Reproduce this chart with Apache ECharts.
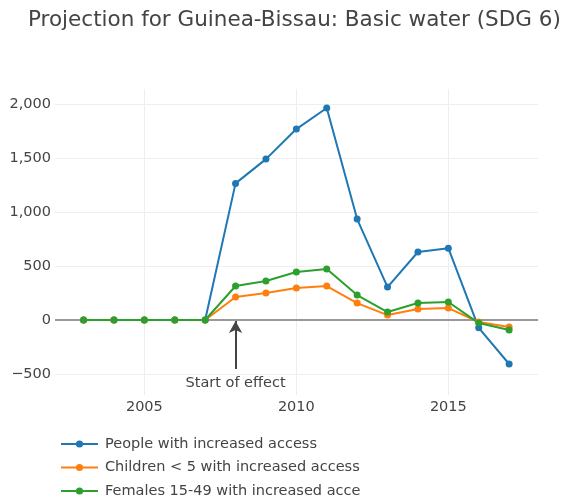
<!DOCTYPE html>
<html>
<head>
<meta charset="utf-8">
<script src="https://cdn.jsdelivr.net/npm/echarts@6/dist/echarts.min.js"></script>
<style>html,body{margin:0;padding:0;background:#fff}#c{width:566px;height:502px}</style>
</head>
<body>
<div id="c"></div>
<script>
const years = [2003, 2004, 2005, 2006, 2007, 2008, 2009, 2010, 2011, 2012, 2013, 2014, 2015, 2016, 2017];
const people = [0, 0, 0, 0, 0, 1265, 1490, 1768, 1963, 935, 305, 630, 665, -72, -407];
const children = [0, 0, 0, 0, 0, 213, 250, 296, 315, 157, 46, 102, 111, -18, -65];
const females = [0, 0, 0, 0, 0, 315, 361, 444, 472, 231, 74, 157, 167, -28, -93];
const seriesNames = ['People with increased access', 'Children < 5 with increased access', 'Females 15-49 with increased access'];
const xTicks = [2005, 2010, 2015];
const yTicks = [-500, 0, 500, 1000, 1500, 2000];
const annotationYear = 2008;
const titleText = 'Projection for Guinea-Bissau: Basic water (SDG 6)';

const FONT = 'DejaVu Sans';
const colors = ['#1f77b4', '#ff7f0e', '#2ca02c'];
const chart = echarts.init(document.getElementById('c'), null, {renderer: 'canvas'});

function pair(arr) { return years.map((y, i) => [y, arr[i]]); }
function fmtY(v) {
  const s = Math.abs(v).toLocaleString('en-US');
  return v < 0 ? '\u2212' + s : s;
}
function mkSeries(name, arr, color) {
  return {
    name, type: 'line', data: pair(arr), z: 5,
    symbol: 'circle', symbolSize: 7, showSymbol: true,
    lineStyle: {color, width: 2}, itemStyle: {color},
    animation: false
  };
}

const gridLines = [];
xTicks.forEach(v => gridLines.push({xAxis: v}));
yTicks.filter(v => v !== 0).forEach(v => gridLines.push({yAxis: v}));

chart.setOption({
  animation: false,
  title: {
    text: titleText, left: 28, top: 9, padding: 0,
    textStyle: {fontFamily: FONT, fontSize: 21.5, fontWeight: 'normal', color: '#444'}
  },
  grid: {left: 55, right: 28, top: 89, bottom: 107},
  xAxis: {
    type: 'value', min: 2002.06, max: 2017.95, splitNumber: 3,
    axisLine: {show: false}, axisTick: {show: false}, splitLine: {show: false},
    axisLabel: {
      fontFamily: FONT, fontSize: 14.5, color: '#444', margin: 5,
      showMinLabel: true, showMaxLabel: true,
      formatter: v => xTicks.includes(Math.round(v * 1000) / 1000) ? String(v) : ''
    }
  },
  yAxis: {
    type: 'value', min: -694, max: 2139, splitNumber: 5,
    axisLine: {show: false}, axisTick: {show: false}, splitLine: {show: false},
    axisLabel: {
      fontFamily: FONT, fontSize: 14.5, color: '#444', margin: 4,
      formatter: v => yTicks.includes(v) ? fmtY(v) : ''
    }
  },
  legend: {
    orient: 'vertical', left: 60, top: 435.5, padding: 0,
    data: seriesNames,
    itemWidth: 37, itemHeight: 9, itemGap: 6.5,
    textStyle: {
      fontFamily: FONT, fontSize: 14.5, color: '#444', lineHeight: 17,
      width: 263, overflow: 'truncate', ellipsis: '', padding: [0, 0, 0, 2]
    }
  },
  series: [
    {
      name: 'grid', type: 'line', data: [], z: 1, silent: true,
      markLine: {
        silent: true, symbol: 'none', animation: false,
        label: {show: false},
        lineStyle: {color: '#eeeeee', width: 1, type: 'solid'},
        data: gridLines
      }
    },
    {
      name: 'zero', type: 'line', data: [], z: 2, silent: true,
      markLine: {
        silent: true, symbol: 'none', animation: false,
        label: {show: false},
        lineStyle: {color: '#999999', width: 2, type: 'solid'},
        data: [{yAxis: 0}]
      }
    },
    mkSeries(seriesNames[0], people, colors[0]),
    mkSeries(seriesNames[1], children, colors[1]),
    mkSeries(seriesNames[2], females, colors[2]),
    {
      name: 'annotation', type: 'line', data: [], z: 6, silent: true,
      markLine: {
        silent: true, animation: false,
        symbol: ['none', 'arrow'], symbolSize: [10, 12],
        lineStyle: {color: '#444', width: 2, type: 'solid'},
        label: {
          show: true, position: 'start', formatter: 'Start of effect',
          fontFamily: FONT, fontSize: 14.5, color: '#444', distance: 7
        },
        data: [[{coord: [annotationYear, -454]}, {coord: [annotationYear, -10]}]]
      }
    }
  ]
});
</script>
</body>
</html>
